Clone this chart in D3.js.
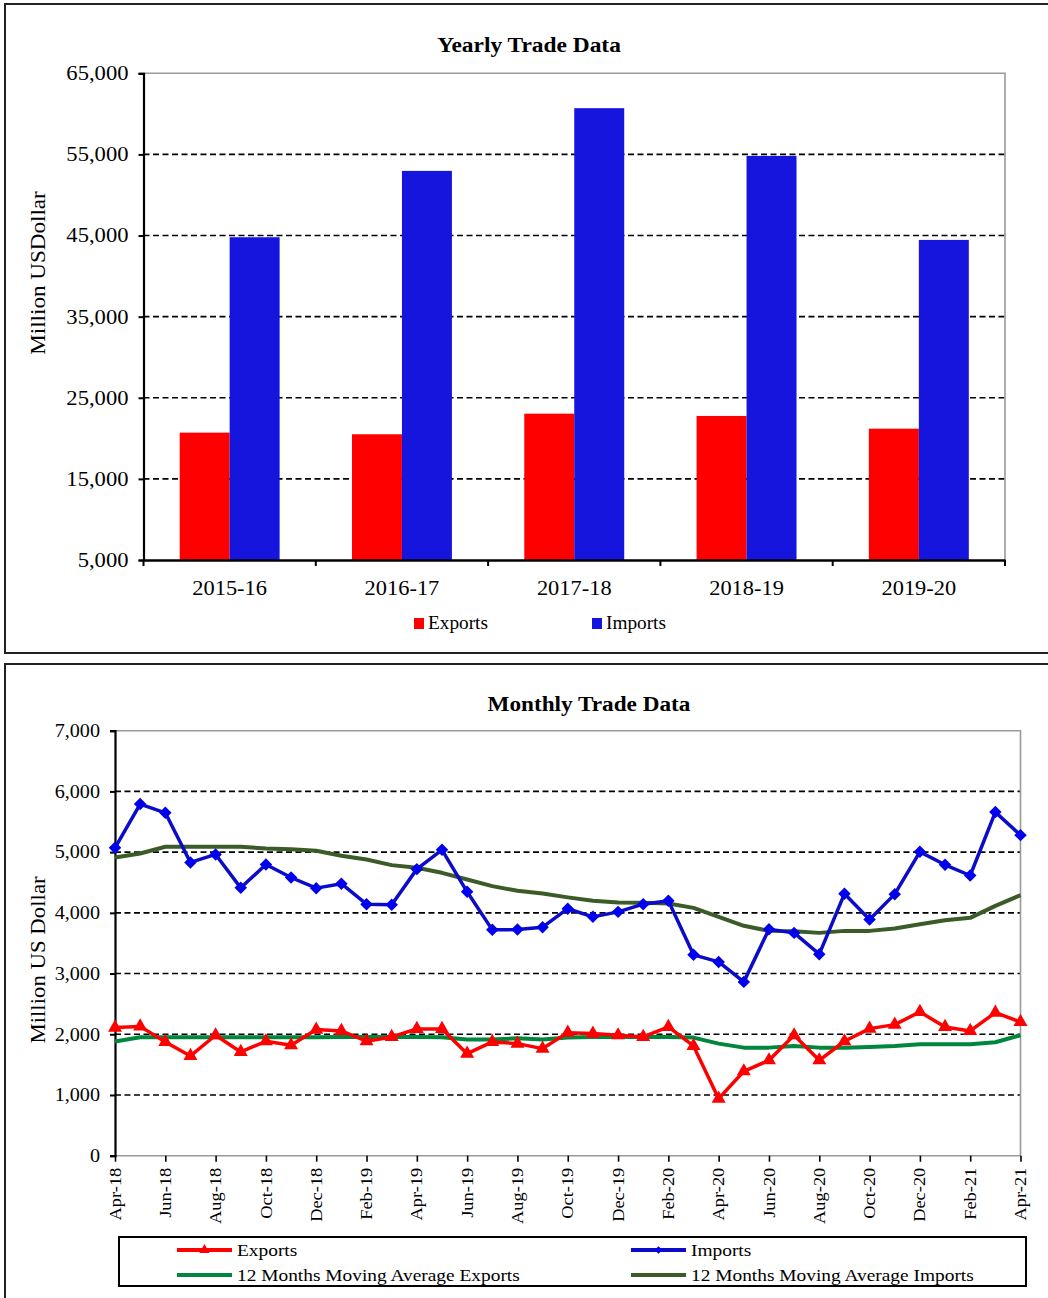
<!DOCTYPE html>
<html>
<head>
<meta charset="utf-8">
<script src="https://cdn.jsdelivr.net/npm/d3@7"></script>
<style>
  body { margin: 0; background: #fff; }
  text { font-family: "Liberation Serif", "Times New Roman", serif; fill: #000; }
</style>
</head>
<body>
<svg id="chart" width="1048" height="1298"></svg>
<script>
// Yearly data
var years = ["2015-16", "2016-17", "2017-18", "2018-19", "2019-20"];
var yearlyExports = [20700, 20500, 23040, 22760, 21190];
var yearlyImports = [44790, 52970, 60700, 54815, 44460];
var yearlyTicks = [5000, 15000, 25000, 35000, 45000, 55000, 65000];

// Monthly data, Apr-18 .. Apr-21
var months = [
    "Apr-18", "May-18", "Jun-18", "Jul-18", "Aug-18", "Sep-18", "Oct-18", "Nov-18", "Dec-18",
    "Jan-19", "Feb-19", "Mar-19", "Apr-19", "May-19", "Jun-19", "Jul-19", "Aug-19", "Sep-19",
    "Oct-19", "Nov-19", "Dec-19", "Jan-20", "Feb-20", "Mar-20", "Apr-20", "May-20", "Jun-20",
    "Jul-20", "Aug-20", "Sep-20", "Oct-20", "Nov-20", "Dec-20", "Jan-21", "Feb-21", "Mar-21",
    "Apr-21"
];
var monthlyExports = [
    2110, 2130, 1874, 1643, 1984, 1709, 1885, 1819, 2077,
    2055, 1885, 1956, 2088, 2088, 1681, 1874, 1846, 1764,
    2027, 2011, 1984, 1956, 2121, 1808, 940, 1390, 1571,
    1984, 1571, 1885, 2093, 2159, 2368, 2121, 2055, 2357,
    2203
];
var monthlyImports = [
    5071, 5791, 5648, 4830, 4962, 4412, 4797, 4582, 4407,
    4480, 4143, 4132, 4720, 5038, 4346, 3720, 3725, 3764,
    4068, 3934, 4016, 4143, 4198, 3308, 3192, 2863, 3731,
    3670, 3319, 4313, 3890, 4308, 5005, 4791, 4615, 5659,
    5280
];
var maExports = [
    1880, 1950, 1950, 1950, 1950, 1950, 1950, 1950, 1950,
    1955, 1956, 1956, 1956, 1950, 1912, 1912, 1935, 1912,
    1945, 1956, 1956, 1956, 1956, 1945, 1846, 1780, 1780,
    1808, 1780, 1780, 1791, 1808, 1835, 1835, 1835, 1868,
    1984
];
var maImports = [
    4912, 4978, 5088, 5088, 5088, 5088, 5060, 5049, 5022,
    4940, 4879, 4786, 4742, 4659, 4549, 4440, 4363, 4319,
    4255, 4198, 4170, 4165, 4154, 4082, 3934, 3786, 3703,
    3698, 3670, 3703, 3703, 3742, 3813, 3879, 3918, 4115,
    4291
];
var monthlyTicks = [0, 1000, 2000, 3000, 4000, 5000, 6000, 7000];

var svg = d3.select("#chart");
var fmt = d3.format(",");

// The source text is set a little wider than Times, stretch glyphs to match
var stretch = function(sel, f) {
    sel.each(function() {
        var w = this.getComputedTextLength();
        d3.select(this)
            .attr("textLength", w * f)
            .attr("lengthAdjust", "spacingAndGlyphs");
    });
};

// Outer frames of the two panels
svg.append("rect")
    .attr("x", 5).attr("y", 4).attr("width", 1070).attr("height", 649)
    .attr("fill", "none").attr("stroke", "#222").attr("stroke-width", 2);
svg.append("rect")
    .attr("x", 5).attr("y", 664).attr("width", 1070).attr("height", 660)
    .attr("fill", "none").attr("stroke", "#222").attr("stroke-width", 2);


// ---------- Yearly chart ----------
var top1 = {left: 143.5, right: 1005, top: 73.3, bottom: 560};

var x = d3.scaleBand()
    .domain(years)
    .range([top1.left, top1.right])
    .paddingInner(0.42)
    .paddingOuter(0.21);

var xSeries = d3.scaleBand()
    .domain(["Exports", "Imports"])
    .range([0, x.bandwidth()]);

var y = d3.scaleLinear()
    .domain([5000, 65000])
    .range([top1.bottom, top1.top]);

var g1 = svg.append("g");

// dashed gridlines
g1.selectAll(".grid")
    .data(yearlyTicks.slice(1, -1))
    .join("line")
    .attr("x1", top1.left).attr("x2", top1.right)
    .attr("y1", d => y(d)).attr("y2", d => y(d))
    .attr("stroke", "#000").attr("stroke-width", 1.6)
    .attr("stroke-dasharray", "6,3.5");

// plot border (top and right, gray)
g1.append("path")
    .attr("d", `M${top1.left},${y(65000)}H${top1.right}V${top1.bottom}`)
    .attr("fill", "none").attr("stroke", "#999").attr("stroke-width", 1.6);

var yearRows = years.map((yr, i) => ({year: yr, Exports: yearlyExports[i], Imports: yearlyImports[i]}));
var barColor = {Exports: "#ff0000", Imports: "#1515dd"};

g1.selectAll(".yr")
    .data(yearRows)
    .join("g")
    .attr("transform", d => `translate(${x(d.year)},0)`)
    .selectAll("rect")
    .data(d => ["Exports", "Imports"].map(k => ({key: k, value: d[k]})))
    .join("rect")
    .attr("x", d => xSeries(d.key))
    .attr("width", xSeries.bandwidth())
    .attr("y", d => y(d.value))
    .attr("height", d => y(5000) - y(d.value))
    .attr("fill", d => barColor[d.key]);

// axes
var yAxis1 = d3.axisLeft(y).tickValues(yearlyTicks).tickFormat(fmt).tickSize(5).tickPadding(10);
g1.append("g")
    .attr("transform", `translate(${top1.left},0)`)
    .call(yAxis1)
    .call(a => a.select(".domain").attr("stroke-width", 2.2))
    .call(a => a.selectAll("line").attr("stroke-width", 2))
    .call(a => a.selectAll("text")
        .style("font-family", "Liberation Serif, serif")
        .style("font-size", "20px")
        .call(stretch, 1.13));

var xAxis1 = d3.axisBottom(x).tickSize(0).tickPadding(21);
g1.append("g")
    .attr("transform", `translate(0,${top1.bottom})`)
    .call(xAxis1)
    .call(a => a.select(".domain").attr("stroke-width", 2.5))
    .call(a => a.selectAll("text")
        .style("font-family", "Liberation Serif, serif")
        .style("font-size", "20px")
        .call(stretch, 1.12));

// tick marks at category boundaries
g1.selectAll(".catTick")
    .data(d3.range(years.length + 1))
    .join("line")
    .attr("x1", i => top1.left + i * x.step())
    .attr("x2", i => top1.left + i * x.step())
    .attr("y1", top1.bottom).attr("y2", top1.bottom + 6)
    .attr("stroke", "#000").attr("stroke-width", 2);

g1.append("text")
    .attr("x", 529).attr("y", 52)
    .attr("text-anchor", "middle")
    .style("font-size", "20px").style("font-weight", "bold")
    .text("Yearly Trade Data")
    .call(stretch, 1.17);

g1.append("text")
    .attr("transform", "translate(45,273) rotate(-90)")
    .attr("text-anchor", "middle")
    .style("font-size", "21px")
    .text("Million USDollar")
    .call(stretch, 1.1);

// legend
var leg1 = g1.selectAll(".leg1")
    .data(["Exports", "Imports"])
    .join("g")
    .attr("transform", (d, i) => `translate(${414 + i * 178},618)`);
leg1.append("rect")
    .attr("width", 10).attr("height", 11)
    .attr("fill", d => barColor[d]);
leg1.append("text")
    .attr("x", 14).attr("y", 11)
    .style("font-size", "18px")
    .text(d => d)
    .call(stretch, 1.07);


// ---------- Monthly chart ----------
var p2 = {left: 115, right: 1020.5, top: 730.7, bottom: 1155.7};

var xm = d3.scalePoint()
    .domain(months)
    .range([p2.left, p2.right]);

var ym = d3.scaleLinear()
    .domain([0, 7000])
    .range([p2.bottom, p2.top]);

var g2 = svg.append("g");

g2.selectAll(".grid2")
    .data(monthlyTicks.slice(1, -1))
    .join("line")
    .attr("x1", p2.left).attr("x2", p2.right)
    .attr("y1", d => ym(d)).attr("y2", d => ym(d))
    .attr("stroke", "#000").attr("stroke-width", 1.6)
    .attr("stroke-dasharray", "6,3.5");

// plot border, gray
g2.append("path")
    .attr("d", `M${p2.left},${p2.top}H${p2.right}V${p2.bottom}H${p2.left}`)
    .attr("fill", "none").attr("stroke", "#999").attr("stroke-width", 1.6);

var yAxis2 = d3.axisLeft(ym).tickValues(monthlyTicks).tickFormat(fmt).tickSize(5).tickPadding(10);
g2.append("g")
    .attr("transform", `translate(${p2.left},0)`)
    .call(yAxis2)
    .call(a => a.select(".domain").attr("stroke-width", 2.2))
    .call(a => a.selectAll("line").attr("stroke-width", 2))
    .call(a => a.selectAll("text")
        .style("font-family", "Liberation Serif, serif")
        .style("font-size", "18px")
        .call(stretch, 1.12));

var labelMonths = months.filter((m, i) => i % 2 === 0);
var xAxis2 = d3.axisBottom(xm).tickValues(labelMonths).tickSize(6).tickFormat("");
g2.append("g")
    .attr("transform", `translate(0,${p2.bottom})`)
    .call(xAxis2)
    .call(a => a.select(".domain").remove())
    .call(a => a.selectAll("line").attr("stroke-width", 1.6));

g2.selectAll(".mlab")
    .data(labelMonths)
    .join("text")
    .attr("transform", d => `translate(${xm(d)},${p2.bottom + 12}) rotate(-90)`)
    .attr("text-anchor", "end")
    .attr("dy", "0.35em")
    .style("font-size", "16px")
    .text(d => d)
    .call(stretch, 1.15);

var lineGen = d3.line()
    .x((d, i) => xm(months[i]))
    .y(d => ym(d));

var series = [
    {name: "Exports", values: monthlyExports, color: "#ff0000", marker: "triangle"},
    {name: "Imports", values: monthlyImports, color: "#0c0cc8", marker: "diamond"},
    {name: "12 Months Moving Average Exports", values: maExports, color: "#00873d", marker: null},
    {name: "12 Months Moving Average Imports", values: maImports, color: "#3b5b28", marker: null}
];

var triangle = d3.symbol(d3.symbolTriangle, 85);
var diamond = d3.symbol(d3.symbolSquare, 78);

var drawOrder = [series[3], series[2], series[1], series[0]];
drawOrder.forEach(function(s) {
    g2.append("path")
        .datum(s.values)
        .attr("d", lineGen)
        .attr("fill", "none")
        .attr("stroke", s.color)
        .attr("stroke-width", s.marker ? 3.5 : 4)
        .attr("stroke-linejoin", "round");

    if (s.marker) {
        g2.selectAll(".mk-" + s.marker)
            .data(s.values)
            .join("path")
            .attr("transform", (d, i) => s.marker === "diamond"
                ? `translate(${xm(months[i])},${ym(d)}) rotate(45)`
                : `translate(${xm(months[i])},${ym(d)})`)
            .attr("d", s.marker === "diamond" ? diamond : triangle)
            .attr("fill", s.marker === "diamond" ? "#0000ee" : "#ff0000");
    }
});

g2.append("text")
    .attr("x", 589).attr("y", 711)
    .attr("text-anchor", "middle")
    .style("font-size", "20px").style("font-weight", "bold")
    .text("Monthly Trade Data")
    .call(stretch, 1.16);

g2.append("text")
    .attr("transform", "translate(45,960) rotate(-90)")
    .attr("text-anchor", "middle")
    .style("font-size", "20px")
    .text("Million US Dollar")
    .call(stretch, 1.14);

// legend box
g2.append("rect")
    .attr("x", 119).attr("y", 1237).attr("width", 907).attr("height", 49)
    .attr("fill", "none").attr("stroke", "#000").attr("stroke-width", 2);

var leg2 = g2.selectAll(".leg2")
    .data(series)
    .join("g")
    .attr("transform", (d, i) => `translate(${i % 2 === 0 ? 177 : 631},${i < 2 ? 1250 : 1275})`);
leg2.append("line")
    .attr("x1", 0).attr("x2", 55)
    .attr("stroke", d => d.color).attr("stroke-width", 4);
leg2.filter(d => d.marker)
    .append("path")
    .attr("transform", d => d.marker === "diamond" ? "translate(27.5,0) rotate(45)" : "translate(27.5,0)")
    .attr("d", d => d.marker === "diamond" ? d3.symbol(d3.symbolSquare, 30)() : d3.symbol(d3.symbolTriangle, 45)())
    .attr("fill", d => d.marker === "diamond" ? "#0000ee" : "#ff0000");
leg2.append("text")
    .attr("x", 60).attr("dy", "0.35em")
    .style("font-size", "17px")
    .text(d => d.name)
    .call(stretch, 1.14);
</script>
</body>
</html>
